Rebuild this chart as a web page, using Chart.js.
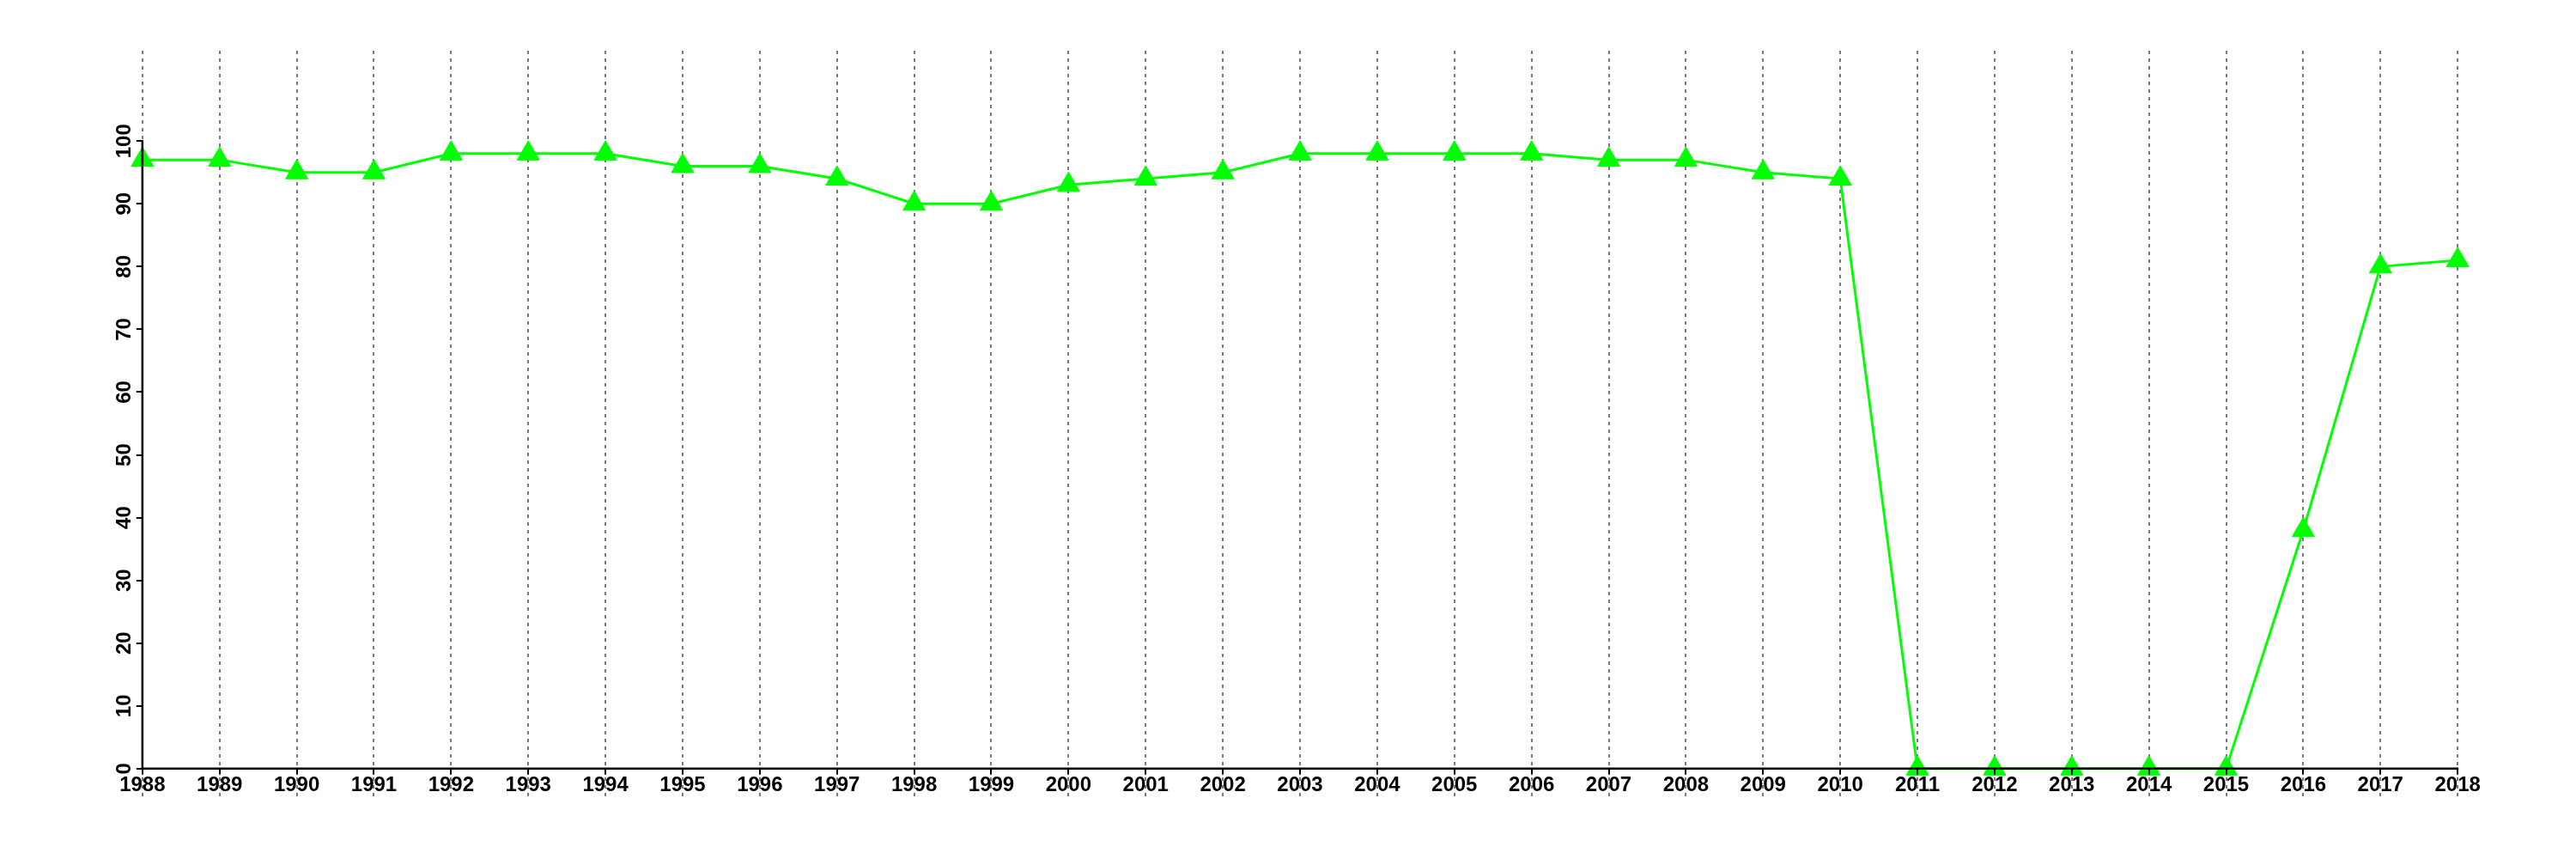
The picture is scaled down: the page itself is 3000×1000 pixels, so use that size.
<!DOCTYPE html>
<html>
<head>
<meta charset="utf-8">
<script src="https://cdn.jsdelivr.net/npm/chart.js@4/dist/chart.umd.min.js"></script>
<style>
  html, body { margin: 0; padding: 0; background: #ffffff; }
  #wrap { width: 3000px; height: 1000px; }
</style>
</head>
<body>
<div id="wrap"><canvas id="c" width="3000" height="1000"></canvas></div>
<script>
const years = [1988, 1989, 1990, 1991, 1992, 1993, 1994, 1995, 1996, 1997, 1998, 1999, 2000,
  2001, 2002, 2003, 2004, 2005, 2006, 2007, 2008, 2009, 2010, 2011, 2012, 2013, 2014, 2015,
  2016, 2017, 2018];
const values = [97, 97, 95, 95, 98, 98, 98, 96, 96, 94, 90, 90, 93,
  94, 95, 98, 98, 98, 98, 97, 97, 95, 94, 0, 0, 0, 0, 0,
  38, 80, 81];
const yTicks = [0, 10, 20, 30, 40, 50, 60, 70, 80, 90, 100];
const xTickLabels = years.map(String);

const FONT = 'bold 24px "Liberation Sans", Arial, Helvetica, sans-serif';

const axesPlugin = {
  id: 'baseAxes',
  afterDraw(chart) {
    const ctx = chart.ctx;
    const xs = chart.scales.x, ys = chart.scales.y;
    const y0 = ys.getPixelForValue(0);
    const x0 = xs.getPixelForValue(years[0]);
    ctx.save();
    ctx.strokeStyle = '#000000';
    ctx.fillStyle = '#000000';
    ctx.lineWidth = 2.5;
    ctx.lineCap = 'butt';
    // x axis
    ctx.beginPath();
    ctx.moveTo(xs.getPixelForValue(years[0]) - 1, y0);
    ctx.lineTo(xs.getPixelForValue(years[years.length - 1]) + 1, y0);
    ctx.stroke();
    ctx.lineWidth = 2;
    years.forEach(v => {
      const px = Math.round(xs.getPixelForValue(v));
      ctx.beginPath();
      ctx.moveTo(px, y0);
      ctx.lineTo(px, y0 + 7);
      ctx.stroke();
    });
    ctx.font = FONT;
    ctx.textAlign = 'center';
    ctx.textBaseline = 'alphabetic';
    years.forEach((v, i) => {
      ctx.fillText(xTickLabels[i], xs.getPixelForValue(v), y0 + 26);
    });
    // y axis
    ctx.lineWidth = 2.5;
    ctx.beginPath();
    ctx.moveTo(x0, ys.getPixelForValue(yTicks[0]) + 1);
    ctx.lineTo(x0, ys.getPixelForValue(yTicks[yTicks.length - 1]) - 1);
    ctx.stroke();
    ctx.lineWidth = 2;
    yTicks.forEach(v => {
      const py = Math.round(ys.getPixelForValue(v));
      ctx.beginPath();
      ctx.moveTo(x0, py);
      ctx.lineTo(x0 - 7, py);
      ctx.stroke();
    });
    yTicks.forEach(v => {
      const py = ys.getPixelForValue(v);
      ctx.save();
      ctx.translate(x0 - 14, py);
      ctx.rotate(-Math.PI / 2);
      ctx.textAlign = 'center';
      ctx.textBaseline = 'alphabetic';
      ctx.fillText(String(v), 0, 0);
      ctx.restore();
    });
    ctx.restore();
  }
};

new Chart(document.getElementById('c'), {
  type: 'line',
  data: {
    datasets: [{
      data: years.map((y, i) => ({ x: y, y: values[i] })),
      borderColor: '#00ff00',
      backgroundColor: '#00ff00',
      borderWidth: 3,
      pointStyle: 'triangle',
      pointRadius: 15,
      pointBorderWidth: 1,
      pointBorderColor: '#00ff00',
      pointBackgroundColor: '#00ff00',
      tension: 0,
      fill: false
    }]
  },
  options: {
    responsive: false,
    animation: false,
    devicePixelRatio: 1,
    layout: { padding: { left: 58, right: 30, top: 59, bottom: 73 } },
    plugins: { legend: { display: false }, tooltip: { enabled: false } },
    scales: {
      x: {
        type: 'linear',
        min: 1986.8,
        max: 2019.2,
        z: 1,
        afterBuildTicks: (scale) => { scale.ticks = years.map(v => ({ value: v })); },
        ticks: { display: false },
        border: { display: false, dash: [4, 5] },
        grid: {
          display: true,
          drawTicks: false,
          color: '#7a7a7a',
          lineWidth: 2
        }
      },
      y: {
        type: 'linear',
        min: -4.4,
        max: 114.4,
        display: false
      }
    }
  },
  plugins: [axesPlugin]
});
</script>
</body>
</html>
